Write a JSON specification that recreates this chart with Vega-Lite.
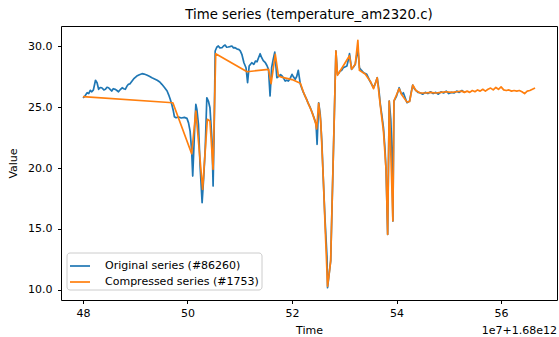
{
  "$schema": "https://vega.github.io/schema/vega-lite/v6.json",
  "width": 496,
  "height": 274,
  "autosize": {"type": "none"},
  "padding": {"left": 61, "top": 26, "right": 2, "bottom": 37},
  "background": "white",
  "title": {"text": "Time series (temperature_am2320.c)", "fontSize": 13.3, "fontWeight": "normal", "font": "DejaVu Sans", "color": "black", "offset": 5, "anchor": "middle", "frame": "group"},
  "config": {
    "font": "DejaVu Sans",
    "view": {"stroke": "black", "strokeWidth": 1},
    "axis": {"grid": false, "domain": false, "tickColor": "black", "tickSize": 3.5, "tickWidth": 1, "labelFontSize": 11, "labelColor": "black", "labelFont": "DejaVu Sans", "titleFont": "DejaVu Sans", "titleFontSize": 11, "titleFontWeight": "normal", "titleColor": "black"}
  },
  "datasets": {
    "orig": [
      {"t":48.00,"v":25.75},{"t":48.03,"v":25.85},{"t":48.06,"v":26.05},{"t":48.08,"v":26.17},{"t":48.11,"v":26.1},{"t":48.14,"v":26.37},{"t":48.17,"v":26.25},{"t":48.20,"v":26.4},{"t":48.24,"v":27.19},{"t":48.27,"v":26.99},{"t":48.30,"v":26.45},{"t":48.33,"v":26.6},{"t":48.36,"v":26.58},{"t":48.40,"v":26.4},{"t":48.43,"v":26.45},{"t":48.46,"v":26.62},{"t":48.49,"v":26.58},{"t":48.52,"v":26.45},{"t":48.55,"v":26.31},{"t":48.58,"v":26.5},{"t":48.62,"v":26.45},{"t":48.65,"v":26.35},{"t":48.68,"v":26.25},{"t":48.72,"v":26.45},{"t":48.75,"v":26.58},{"t":48.78,"v":26.5},{"t":48.81,"v":26.45},{"t":48.84,"v":26.7},{"t":48.87,"v":26.86},{"t":48.90,"v":26.9},{"t":48.94,"v":27.13},{"t":48.98,"v":27.35},{"t":49.03,"v":27.54},{"t":49.08,"v":27.65},{"t":49.13,"v":27.73},{"t":49.17,"v":27.7},{"t":49.22,"v":27.62},{"t":49.27,"v":27.52},{"t":49.32,"v":27.40},{"t":49.37,"v":27.3},{"t":49.42,"v":27.19},{"t":49.47,"v":27.05},{"t":49.51,"v":26.86},{"t":49.56,"v":26.6},{"t":49.61,"v":26.31},{"t":49.64,"v":26.0},{"t":49.67,"v":25.63},{"t":49.70,"v":25.2},{"t":49.73,"v":24.67},{"t":49.75,"v":24.2},{"t":49.78,"v":24.12},{"t":49.83,"v":24.18},{"t":49.88,"v":24.1},{"t":49.94,"v":24.15},{"t":49.99,"v":24.07},{"t":50.02,"v":23.7},{"t":50.05,"v":23.03},{"t":50.08,"v":21.39},{"t":50.10,"v":19.34},{"t":50.12,"v":21.39},{"t":50.14,"v":23.5},{"t":50.16,"v":25.22},{"t":50.18,"v":24.8},{"t":50.21,"v":23.58},{"t":50.24,"v":20.30},{"t":50.28,"v":17.16},{"t":50.31,"v":19.20},{"t":50.34,"v":21.66},{"t":50.37,"v":25.76},{"t":50.40,"v":25.49},{"t":50.43,"v":24.94},{"t":50.47,"v":22.21},{"t":50.49,"v":18.52},{"t":50.51,"v":23.03},{"t":50.53,"v":29.59},{"t":50.56,"v":29.9},{"t":50.59,"v":30.0},{"t":50.62,"v":29.85},{"t":50.66,"v":29.86},{"t":50.69,"v":30.0},{"t":50.72,"v":30.08},{"t":50.75,"v":29.9},{"t":50.78,"v":29.92},{"t":50.81,"v":29.95},{"t":50.85,"v":30.0},{"t":50.88,"v":29.85},{"t":50.91,"v":29.86},{"t":50.95,"v":29.75},{"t":50.98,"v":29.73},{"t":51.01,"v":29.6},{"t":51.04,"v":29.32},{"t":51.08,"v":28.63},{"t":51.12,"v":28.22},{"t":51.15,"v":26.99},{"t":51.18,"v":28.36},{"t":51.23,"v":28.63},{"t":51.27,"v":28.5},{"t":51.30,"v":28.77},{"t":51.33,"v":28.7},{"t":51.36,"v":29.04},{"t":51.39,"v":29.37},{"t":51.42,"v":29.04},{"t":51.45,"v":28.8},{"t":51.49,"v":28.63},{"t":51.52,"v":28.4},{"t":51.55,"v":28.09},{"t":51.58,"v":25.9},{"t":51.61,"v":28.22},{"t":51.64,"v":28.9},{"t":51.67,"v":29.5},{"t":51.71,"v":27.40},{"t":51.74,"v":27.5},{"t":51.78,"v":27.65},{"t":51.81,"v":27.54},{"t":51.84,"v":27.35},{"t":51.87,"v":27.13},{"t":51.90,"v":27.2},{"t":51.93,"v":27.13},{"t":51.96,"v":27.3},{"t":52.00,"v":27.68},{"t":52.03,"v":27.45},{"t":52.06,"v":27.27},{"t":52.09,"v":27.5},{"t":52.12,"v":28.01},{"t":52.16,"v":26.86},{"t":52.19,"v":26.5},{"t":52.22,"v":26.17},{"t":52.25,"v":25.9},{"t":52.28,"v":25.63},{"t":52.31,"v":25.3},{"t":52.35,"v":24.94},{"t":52.38,"v":24.6},{"t":52.41,"v":24.26},{"t":52.44,"v":23.9},{"t":52.46,"v":23.58},{"t":52.48,"v":21.94},{"t":52.51,"v":25.35},{"t":52.54,"v":24.40},{"t":52.57,"v":22.21},{"t":52.60,"v":18.93},{"t":52.63,"v":15.93},{"t":52.67,"v":12.65},{"t":52.68,"v":10.19},{"t":52.71,"v":11.29},{"t":52.74,"v":12.38},{"t":52.77,"v":17.57},{"t":52.81,"v":24.40},{"t":52.84,"v":29.59},{"t":52.87,"v":27.68},{"t":52.90,"v":27.8},{"t":52.92,"v":27.95},{"t":52.95,"v":28.0},{"t":52.98,"v":28.22},{"t":53.02,"v":28.3},{"t":53.05,"v":28.36},{"t":53.08,"v":28.9},{"t":53.10,"v":29.37},{"t":53.14,"v":28.09},{"t":53.18,"v":28.3},{"t":53.21,"v":28.50},{"t":53.24,"v":29.3},{"t":53.26,"v":29.8},{"t":53.29,"v":28.22},{"t":53.33,"v":28.0},{"t":53.37,"v":27.81},{"t":53.40,"v":27.75},{"t":53.43,"v":27.68},{"t":53.46,"v":27.4},{"t":53.49,"v":27.13},{"t":53.52,"v":26.9},{"t":53.56,"v":26.58},{"t":53.60,"v":27.0},{"t":53.63,"v":27.40},{"t":53.66,"v":26.5},{"t":53.69,"v":25.22},{"t":53.72,"v":24.3},{"t":53.75,"v":23.30},{"t":53.78,"v":21.5},{"t":53.80,"v":19.75},{"t":53.83,"v":14.56},{"t":53.86,"v":25.49},{"t":53.89,"v":24.0},{"t":53.91,"v":21.66},{"t":53.93,"v":15.66},{"t":53.95,"v":25.49},{"t":54.00,"v":25.90},{"t":54.05,"v":26.58},{"t":54.08,"v":26.2},{"t":54.10,"v":26.04},{"t":54.13,"v":26.17},{"t":54.17,"v":25.7},{"t":54.20,"v":25.35},{"t":54.25,"v":25.49},{"t":54.28,"v":26.2},{"t":54.31,"v":26.80},{"t":54.34,"v":26.5},{"t":54.37,"v":26.37},{"t":54.41,"v":26.2},{"t":54.45,"v":26.17},{"t":54.50,"v":26.05},{"t":54.55,"v":26.2},{"t":54.60,"v":26.1},{"t":54.65,"v":26.25},{"t":54.70,"v":26.1},{"t":54.75,"v":26.2},{"t":54.80,"v":26.05},{"t":54.85,"v":26.25},{"t":54.90,"v":26.15},{"t":54.95,"v":26.3},{"t":55.00,"v":26.1},{"t":55.05,"v":26.2},{"t":55.10,"v":26.15},{"t":55.15,"v":26.3},{"t":55.20,"v":26.2},{"t":55.25,"v":26.35},{"t":55.30,"v":26.2}
    ],
    "comp": [
      {"t":48.00,"v":25.85},{"t":49.72,"v":25.35},{"t":50.08,"v":21.17},{"t":50.16,"v":24.67},{"t":50.29,"v":18.25},{"t":50.38,"v":23.99},{"t":50.43,"v":23.85},{"t":50.49,"v":19.89},{"t":50.54,"v":29.37},{"t":51.14,"v":27.89},{"t":51.55,"v":28.09},{"t":51.60,"v":26.91},{"t":51.68,"v":29.32},{"t":51.74,"v":27.54},{"t":51.80,"v":27.45},{"t":52.00,"v":27.25},{"t":52.16,"v":26.95},{"t":52.22,"v":26.2},{"t":52.30,"v":25.4},{"t":52.38,"v":24.6},{"t":52.45,"v":23.7},{"t":52.47,"v":23.2},{"t":52.51,"v":25.3},{"t":52.55,"v":23.8},{"t":52.60,"v":19.0},{"t":52.64,"v":14.5},{"t":52.68,"v":10.3},{"t":52.71,"v":11.3},{"t":52.74,"v":12.4},{"t":52.77,"v":17.6},{"t":52.81,"v":24.4},{"t":52.84,"v":29.6},{"t":52.87,"v":27.6},{"t":53.10,"v":29.2},{"t":53.14,"v":28.1},{"t":53.21,"v":28.5},{"t":53.26,"v":30.47},{"t":53.29,"v":28.0},{"t":53.40,"v":27.7},{"t":53.50,"v":27.1},{"t":53.56,"v":26.5},{"t":53.63,"v":27.4},{"t":53.69,"v":25.1},{"t":53.75,"v":23.0},{"t":53.80,"v":19.8},{"t":53.83,"v":14.56},{"t":53.86,"v":25.49},{"t":53.93,"v":15.66},{"t":53.95,"v":25.49},{"t":54.05,"v":26.5},{"t":54.10,"v":26.0},{"t":54.20,"v":25.4},{"t":54.25,"v":25.45},{"t":54.31,"v":26.8},{"t":54.37,"v":26.35},{"t":54.45,"v":26.15},{"t":54.55,"v":26.15},{"t":54.65,"v":26.2},{"t":54.75,"v":26.15},{"t":54.85,"v":26.2},{"t":54.95,"v":26.25},{"t":55.05,"v":26.2},{"t":55.15,"v":26.25},{"t":55.25,"v":26.3},{"t":55.30,"v":26.2},{"t":55.35,"v":26.3},{"t":55.40,"v":26.2},{"t":55.45,"v":26.35},{"t":55.50,"v":26.25},{"t":55.55,"v":26.4},{"t":55.60,"v":26.3},{"t":55.65,"v":26.45},{"t":55.70,"v":26.3},{"t":55.75,"v":26.45},{"t":55.80,"v":26.55},{"t":55.85,"v":26.4},{"t":55.90,"v":26.6},{"t":55.95,"v":26.45},{"t":56.00,"v":26.65},{"t":56.05,"v":26.4},{"t":56.10,"v":26.35},{"t":56.15,"v":26.4},{"t":56.20,"v":26.3},{"t":56.25,"v":26.35},{"t":56.30,"v":26.3},{"t":56.35,"v":26.35},{"t":56.40,"v":26.25},{"t":56.45,"v":26.1},{"t":56.50,"v":26.3},{"t":56.55,"v":26.35},{"t":56.60,"v":26.45},{"t":56.65,"v":26.55}
    ],
    "offset": [{"label": "1e7+1.68e12"}]
  },
  "layer": [
    {
      "data": {"name": "orig"},
      "mark": {"type": "line", "strokeWidth": 1.7, "strokeJoin": "round", "clip": true},
      "encoding": {
        "x": {"field": "t", "type": "quantitative", "scale": {"domain": [47.58, 57.07], "nice": false, "zero": false}, "axis": {"values": [48, 50, 52, 54, 56], "format": "d", "title": "Time", "labelPadding": 4, "titleY": 33, "titleBaseline": "alphabetic"}},
        "y": {"field": "v", "type": "quantitative", "scale": {"domain": [9.18, 31.64], "nice": false, "zero": false}, "axis": {"values": [10, 12.5, 15, 17.5, 20, 22.5, 25, 27.5, 30], "format": ".1f", "title": "Value", "labelPadding": 5.5, "titleX": -43, "titleY": 137, "titleBaseline": "bottom"}},
        "color": {"datum": "Original series (#86260)", "type": "nominal", "scale": {"domain": ["Original series (#86260)", "Compressed series (#1753)"], "range": ["#1f77b4", "#ff7f0e"]},
          "legend": {"orient": "none", "legendX": 5.5, "legendY": 226.5, "title": null, "symbolType": "stroke", "symbolSize": 400, "symbolStrokeWidth": 1.7, "labelFontSize": 11, "labelFont": "DejaVu Sans", "labelColor": "black", "labelOffset": 14, "padding": 2.5, "rowPadding": -2.6, "strokeColor": "#cccccc", "fillColor": "rgba(255,255,255,0.8)", "cornerRadius": 3}}
      }
    },
    {
      "data": {"name": "comp"},
      "mark": {"type": "line", "strokeWidth": 1.7, "strokeJoin": "round", "clip": true},
      "encoding": {
        "x": {"field": "t", "type": "quantitative"},
        "y": {"field": "v", "type": "quantitative"},
        "color": {"datum": "Compressed series (#1753)", "type": "nominal"}
      }
    },
    {
      "data": {"name": "offset"},
      "mark": {"type": "text", "align": "right", "baseline": "alphabetic", "dy": 34, "fontSize": 11, "font": "DejaVu Sans", "color": "black"},
      "encoding": {
        "x": {"datum": 57.07, "type": "quantitative"},
        "y": {"datum": 9.18, "type": "quantitative"},
        "text": {"field": "label"}
      }
    }
  ]
}
